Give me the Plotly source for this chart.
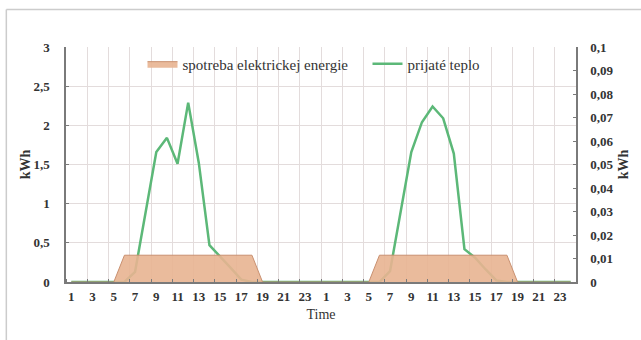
import plotly.graph_objects as go

# Hour-of-day labels for two consecutive days
hours = list(range(1, 25)) + list(range(1, 25))
slot = list(range(1, len(hours) + 1))

# Received heat per hour, kWh (left axis)
heat_day1 = [0, 0, 0, 0, 0, 0, 0.13, 0.90, 1.66, 1.84, 1.51, 2.29,
             1.52, 0.47, 0.33, 0.18, 0.03, 0, 0, 0, 0, 0, 0, 0]
heat_day2 = [0, 0, 0, 0, 0, 0, 0.14, 0.91, 1.66, 2.04, 2.24, 2.09,
             1.64, 0.42, 0.31, 0.16, 0.02, 0, 0, 0, 0, 0, 0, 0]
heat = heat_day1 + heat_day2

# Electricity consumption per hour, kWh (right axis)
elec_day1 = [0, 0, 0, 0, 0, 0.0114, 0.0114, 0.0114, 0.0114, 0.0114, 0.0114, 0.0114,
             0.0114, 0.0114, 0.0114, 0.0114, 0.0114, 0.0114, 0, 0, 0, 0, 0, 0]
elec_day2 = list(elec_day1)
elec = elec_day1 + elec_day2

tick_slots = slot[::2]
tick_text = [str(h) for h in hours[::2]]

serif = "Liberation Serif, Times New Roman, serif"
axis_col = "#7a7a7a"
grid_col = "#e3dcdc"
text_col = "#333333"

fig = go.Figure()

fig.add_trace(go.Scatter(
    x=slot, y=elec, yaxis="y2", mode="lines", fill="tozeroy",
    name="spotreba elektrickej energie",
    line=dict(color="#c99070", width=1),
    fillcolor="rgba(232,180,145,0.9)",
))
fig.add_trace(go.Scatter(
    x=slot, y=heat, mode="lines", name="prijaté teplo",
    line=dict(color="#5cb878", width=2.5),
))

fig.update_layout(
    width=641, height=340,
    margin=dict(l=66, r=63, t=47, b=58),
    paper_bgcolor="white", plot_bgcolor="white",
    separators=", ",
    font=dict(family=serif, color=text_col, size=13),
    showlegend=True,
    legend=dict(
        orientation="h", x=0.15, y=0.928, xanchor="left", yanchor="middle",
        bgcolor="rgba(255,255,255,0)", font=dict(family=serif, size=15, color=text_col),
        itemwidth=30, entrywidth=180, entrywidthmode="pixels",
    ),
    xaxis=dict(
        range=[0.5, 48.5], tickmode="array", tickvals=tick_slots, ticktext=tick_text,
        showgrid=False, ticks="", showline=True, linecolor=axis_col, linewidth=1.5,
        tickfont=dict(family=serif, size=13, color=text_col, weight="bold"),
        ticklabelstandoff=2,
        minor=dict(tickmode="linear", tick0=0.5, dtick=2, showgrid=True,
                   gridcolor=grid_col, gridwidth=1, ticks="inside", ticklen=3,
                   tickcolor=axis_col),
        title=dict(text="Time", font=dict(family=serif, size=14, color=text_col), standoff=6),
        zeroline=False,
    ),
    yaxis=dict(
        range=[0, 3], dtick=0.5, showgrid=True, gridcolor=grid_col, gridwidth=1,
        showline=True, linecolor=axis_col, linewidth=1.5,
        ticks="inside", ticklen=3, tickcolor=axis_col,
        tickfont=dict(family=serif, size=13, color=text_col, weight="bold"),
        ticklabelstandoff=12,
        title=dict(text="kWh", font=dict(family=serif, size=14, color=text_col, weight="bold"), standoff=0),
        zeroline=False,
    ),
    yaxis2=dict(
        range=[0, 0.1], dtick=0.01, overlaying="y", side="right", showgrid=False,
        showline=True, linecolor=axis_col, linewidth=1.5,
        ticks="inside", ticklen=3, tickcolor=axis_col,
        tickfont=dict(family=serif, size=13, color=text_col, weight="bold"),
        ticklabelstandoff=10,
        title=dict(text="kWh", font=dict(family=serif, size=14, color=text_col, weight="bold"), standoff=6),
        zeroline=False,
    ),
)

# Thin frame around the figure (top and left edges)
fig.add_shape(type="line", xref="paper", yref="paper",
              x0=-0.117, x1=1.2, y0=1.16, y1=1.16,
              line=dict(color="#cccccc", width=1.5))
fig.add_shape(type="line", xref="paper", yref="paper",
              x0=-0.117, x1=-0.117, y0=1.16, y1=-0.4,
              line=dict(color="#cccccc", width=1.5))

fig.write_html("out.html")
